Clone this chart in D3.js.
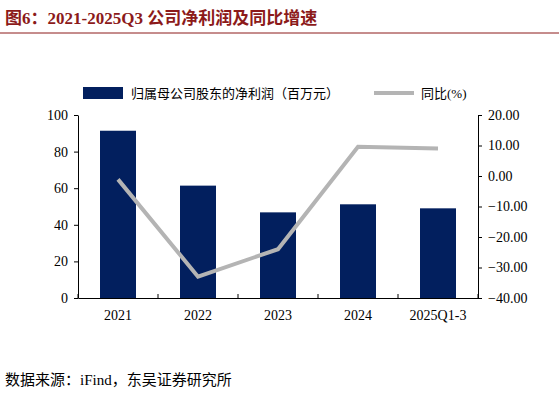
<!DOCTYPE html>
<html><head><meta charset="utf-8">
<script src="https://cdn.jsdelivr.net/npm/d3@7"></script>
<style>body{margin:0;background:#fff}</style>
</head><body><div id="graph"></div>
<script>
const categories = ["2021", "2022", "2023", "2024", "2025Q1-3"];
const profit = [91.4, 61.4, 46.8, 51.2, 49.0];
const yoy = [-1.1, -33.0, -24.0, 9.6, 9.0];
const leftTicks = [0, 20, 40, 60, 80, 100];
const rightTicks = [-40, -30, -20, -10, 0, 10, 20];

const w = 559, h = 417;
const plotL = 78, plotR = 478, plotT = 115, plotB = 298;
const serif = "'Liberation Serif','Noto Sans CJK SC',serif";

var svg = d3.select("#graph").append("svg").attr("width", w).attr("height", h);

svg.append("text").attr("x", 5).attr("y", 24).attr("font-family", serif)
  .attr("font-weight", "bold").attr("font-size", 17).attr("fill", "#8c1a1a")
  .text("图6：2021-2025Q3 公司净利润及同比增速");
svg.append("line").attr("x1", 0).attr("x2", w).attr("y1", 33).attr("y2", 33)
  .attr("stroke", "#8c1a1a").attr("stroke-width", 1);

const xScale = d3.scaleBand().domain(categories).range([plotL, plotR]).paddingInner(0.55).paddingOuter(0.275);
const yLeft = d3.scaleLinear().domain([0, 100]).range([plotB, plotT]);
const yRight = d3.scaleLinear().domain([-40, 20]).range([plotB, plotT]);

const xAxis = d3.axisBottom(xScale).tickSize(0).tickPadding(12);
svg.append("g").attr("transform", "translate(0," + plotB + ")").call(xAxis);
svg.append("g").attr("transform", "translate(" + plotL + ",0)")
  .call(d3.axisLeft(yLeft).tickValues(leftTicks).tickSize(4).tickSizeOuter(0).tickPadding(6));
svg.append("g").attr("transform", "translate(" + plotR + ",0)")
  .call(d3.axisRight(yRight).tickValues(rightTicks).tickFormat(d3.format(".2f")).tickSize(4).tickSizeOuter(0).tickPadding(6));
// category separator ticks
svg.append("g").selectAll("line").data(d3.range(categories.length + 1)).enter().append("line")
  .attr("x1", i => plotL + i * (plotR - plotL) / categories.length)
  .attr("x2", i => plotL + i * (plotR - plotL) / categories.length)
  .attr("y1", plotB).attr("y2", plotB - 4).attr("stroke", "#000");

svg.selectAll(".domain").attr("stroke", "#000");
svg.selectAll(".tick line").attr("stroke", "#000");
svg.selectAll(".tick text").attr("font-family", serif).attr("font-size", 14).attr("fill", "#000");

svg.selectAll("rect.bar").data(profit).enter().append("rect").attr("class", "bar")
  .attr("x", (d, i) => xScale(categories[i]))
  .attr("y", d => yLeft(d))
  .attr("width", xScale.bandwidth())
  .attr("height", d => plotB - yLeft(d))
  .attr("fill", "#021f5e");

const line = d3.line().x((d, i) => xScale(categories[i]) + xScale.bandwidth() / 2).y(d => yRight(d));
svg.append("path").datum(yoy).attr("d", line).attr("fill", "none")
  .attr("stroke", "#b4b4b4").attr("stroke-width", 4);

// legend
svg.append("rect").attr("x", 83).attr("y", 87).attr("width", 40).attr("height", 12).attr("fill", "#021f5e");
svg.append("text").attr("x", 131).attr("y", 98).attr("font-family", serif).attr("font-size", 13)
  .text("归属母公司股东的净利润（百万元）");
svg.append("line").attr("x1", 374).attr("x2", 414).attr("y1", 93).attr("y2", 93)
  .attr("stroke", "#b4b4b4").attr("stroke-width", 4);
svg.append("text").attr("x", 421).attr("y", 98).attr("font-family", serif).attr("font-size", 13)
  .text("同比(%)");

svg.append("text").attr("x", 5).attr("y", 385).attr("font-family", serif).attr("font-size", 15)
  .text("数据来源：iFind，东吴证券研究所");
</script>
</body></html>
